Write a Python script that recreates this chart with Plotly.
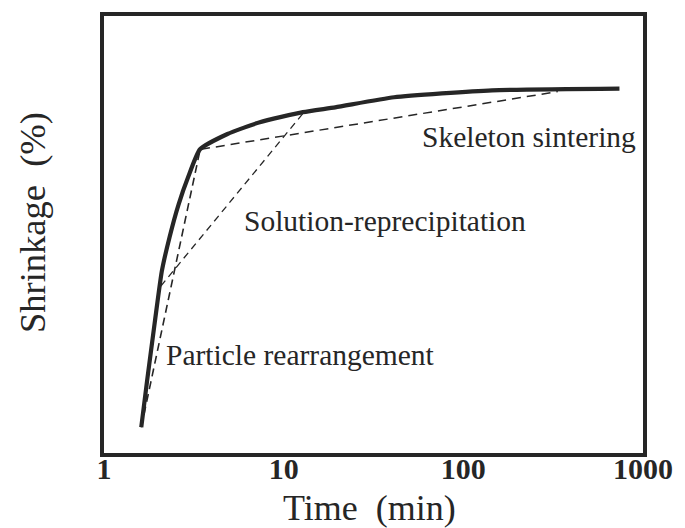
import plotly.graph_objects as go

# Main shrinkage curve (time in min, shrinkage in arbitrary %)
curve_time = [1.612, 1.738, 1.921, 2.098, 2.320, 2.597, 2.944, 3.423, 4.867, 7.366, 12.80, 19.38, 41.17, 144.5, 739.6]
curve_shrink = [5.9, 16.6, 30.2, 41.6, 49.5, 56.8, 63.2, 69.5, 73.0, 75.7, 78.0, 79.1, 81.4, 83.0, 83.4]

# Stage tangent lines
particle_time = [1.612, 3.423]
particle_shrink = [5.9, 69.3]
solution_time = [2.072, 12.80]
solution_shrink = [38.2, 77.7]
skeleton_time = [3.467, 335.5]
skeleton_shrink = [69.5, 82.7]

tick_vals = [1, 10, 100, 1000]
tick_text = ["1", "10", "100", "1000"]

labels = ["Skeleton sintering", "Solution-reprecipitation", "Particle rearrangement"]
label_x = [538, 391, 305]   # pixel centres (converted below via paper coords)
label_y = [135, 219, 354]

INK = "#262626"
FONT = "Liberation Serif, Times New Roman, serif"

fig = go.Figure()
fig.add_trace(go.Scatter(x=particle_time, y=particle_shrink, mode="lines",
                         line=dict(color=INK, width=1.6, dash="8px,5px"), showlegend=False))
fig.add_trace(go.Scatter(x=solution_time, y=solution_shrink, mode="lines",
                         line=dict(color=INK, width=1.3, dash="7px,5px"), showlegend=False))
fig.add_trace(go.Scatter(x=skeleton_time, y=skeleton_shrink, mode="lines",
                         line=dict(color=INK, width=1.5, dash="9px,6px"), showlegend=False))
fig.add_trace(go.Scatter(x=curve_time, y=curve_shrink, mode="lines",
                         line=dict(color=INK, width=4.2, shape="spline", smoothing=0.5),
                         showlegend=False))

L, R, T, B = 104, 654, 13, 453
def px2paper(px, py):
    return (px - L) / (R - L), (B - py) / (B - T)

anns = []
for txt, px, py in zip(labels, label_x, label_y):
    xp, yp = px2paper(px, py)
    anns.append(dict(text=txt, x=xp, y=yp, xref="paper", yref="paper", showarrow=False,
                     xanchor="center", yanchor="middle",
                     font=dict(family=FONT, size=29.5, color=INK)))
xp, yp = px2paper(375, 508)
anns.append(dict(text="Time  (min)", x=xp, y=yp, xref="paper", yref="paper", showarrow=False,
                 xanchor="center", yanchor="middle", font=dict(family=FONT, size=36, color=INK)))
xp, yp = px2paper(31, 221)
anns.append(dict(text="Shrinkage  (%)", x=xp, y=yp, xref="paper", yref="paper", showarrow=False,
                 textangle=-90, xanchor="center", yanchor="middle",
                 font=dict(family=FONT, size=36.5, color=INK)))

fig.update_layout(
    width=685, height=528,
    margin=dict(l=L, r=685 - R, t=T, b=528 - B),
    paper_bgcolor="white", plot_bgcolor="white",
    annotations=anns,
    xaxis=dict(type="log", range=[0, 3], tickvals=tick_vals, ticktext=tick_text,
               showgrid=False, zeroline=False, showline=True, linecolor=INK, linewidth=3.5,
               mirror=True, ticks="", ticklabelstandoff=-14,
               tickfont=dict(family=FONT, size=30, color=INK, weight="bold")),
    yaxis=dict(range=[0, 100], showticklabels=False, showgrid=False, zeroline=False,
               showline=True, linecolor=INK, linewidth=3.5, mirror=True, ticks=""),
)
fig.write_html("out.html")
